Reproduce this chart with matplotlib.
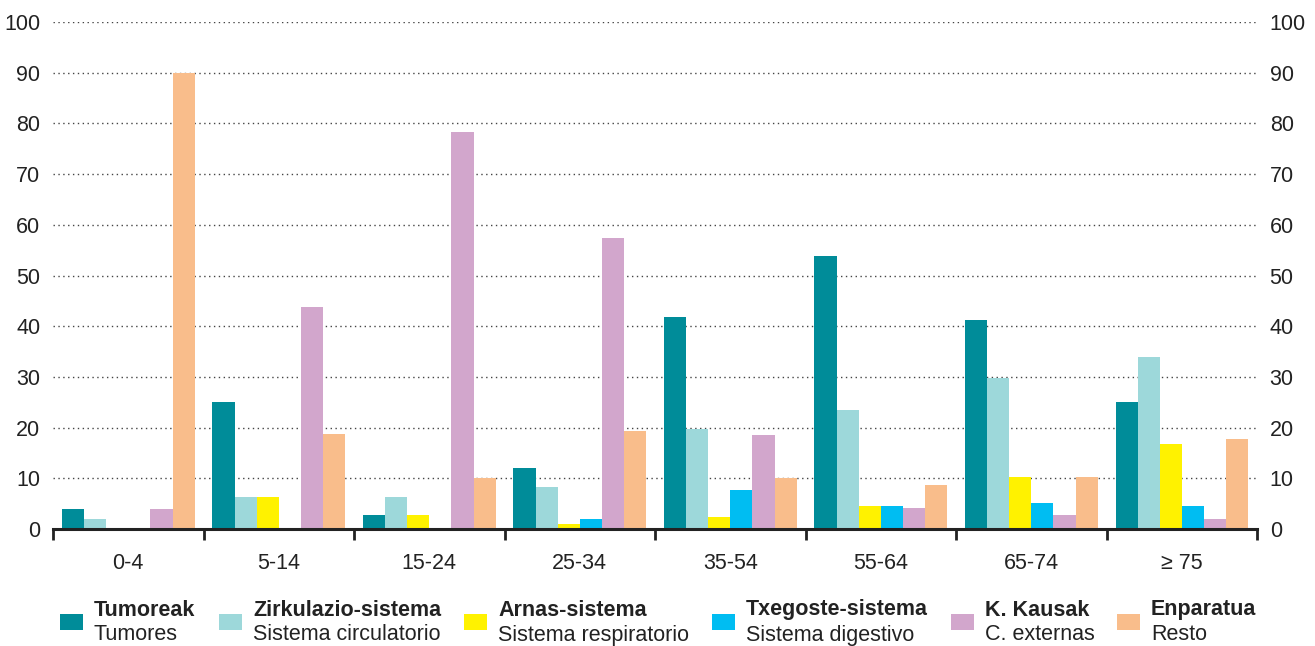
import matplotlib

matplotlib.use("Agg")
import matplotlib.pyplot as plt
import numpy as np
from matplotlib.patches import Rectangle

plt.rcParams["font.family"] = ["Liberation Sans", "DejaVu Sans"]

AGE_GROUPS = ["0-4", "5-14", "15-24", "25-34", "35-54", "55-64", "65-74", "\u2265 75"]

tumoreak = [4.0, 25.0, 2.8, 12.0, 41.8, 53.9, 41.2, 25.0]
zirkulazio = [2.0, 6.3, 6.3, 8.3, 19.7, 23.5, 29.8, 33.9]
arnas = [0.0, 6.3, 2.8, 1.0, 2.3, 4.6, 10.2, 16.8]
txegoste = [0.0, 0.0, 0.0, 2.0, 7.8, 4.6, 5.2, 4.5]
kanpo = [4.0, 43.8, 78.3, 57.4, 18.6, 4.2, 2.8, 1.9]
enparatua = [90.0, 18.8, 10.0, 19.4, 10.0, 8.6, 10.2, 17.8]

SERIES = [tumoreak, zirkulazio, arnas, txegoste, kanpo, enparatua]
LABELS_EU = ["Tumoreak", "Zirkulazio-sistema", "Arnas-sistema",
             "Txegoste-sistema", "K. Kausak", "Enparatua"]
LABELS_ES = ["Tumores", "Sistema circulatorio", "Sistema respiratorio",
             "Sistema digestivo", "C. externas", "Resto"]
COLORS = ["#008c99", "#9dd8da", "#fff200", "#00bdf2", "#d2a6cc", "#f9bd8b"]

Y_TICKS = list(range(0, 101, 10))

W_PX, H_PX = 1315, 646
fig = plt.figure(figsize=(W_PX / 100, H_PX / 100), dpi=100)
ax = fig.add_axes([0.0403, 0.181, 0.9157, 0.785])

x = np.arange(len(AGE_GROUPS))
w = 0.147
for k, (vals, col) in enumerate(zip(SERIES, COLORS)):
    ax.bar(x + (k - 2.5) * w, vals, width=w, color=col, linewidth=0, zorder=3)

ax.set_xlim(-0.5, len(AGE_GROUPS) - 0.5)
ax.set_ylim(0, 100)
ax.set_yticks(Y_TICKS)
for y in Y_TICKS[1:]:
    ax.axhline(y, color="#444444", lw=1.0, ls=(0, (1, 2.5)), zorder=1)

ax.set_xticks(x)
ax.set_xticklabels(AGE_GROUPS, fontsize=15.5, color="#222222")
ax.set_xticks(np.arange(-0.5, len(AGE_GROUPS)), minor=True)
ax.tick_params(axis="x", which="major", length=0, pad=17)
ax.tick_params(axis="x", which="minor", length=8, width=2, color="#222222",
               direction="out")
ax.tick_params(axis="y", length=0, labelsize=15.5, labelcolor="#222222",
               left=True, right=True, labelleft=True, labelright=True, pad=9)

for side in ["left", "right", "top"]:
    ax.spines[side].set_visible(False)
ax.spines["bottom"].set_linewidth(2.2)
ax.spines["bottom"].set_color("#222222")
ax.spines["bottom"].set_zorder(5)

# legend, two lines per entry (Basque bold / Spanish); positions in pixels
leg_px = [60, 219, 464, 712, 951, 1117]
for lx, col, eu, es in zip(leg_px, COLORS, LABELS_EU, LABELS_ES):
    fig.patches.append(Rectangle((lx / W_PX, 16 / H_PX), 23 / W_PX, 16 / H_PX,
                                 transform=fig.transFigure, color=col,
                                 linewidth=0))
    fig.text((lx + 34) / W_PX, 1 - 610 / H_PX, eu, fontsize=15.5,
             fontweight="bold", color="#222222", va="center", ha="left")
    fig.text((lx + 34) / W_PX, 1 - 635 / H_PX, es, fontsize=15.5,
             color="#222222", va="center", ha="left")

fig.savefig("out.png", dpi=100)
